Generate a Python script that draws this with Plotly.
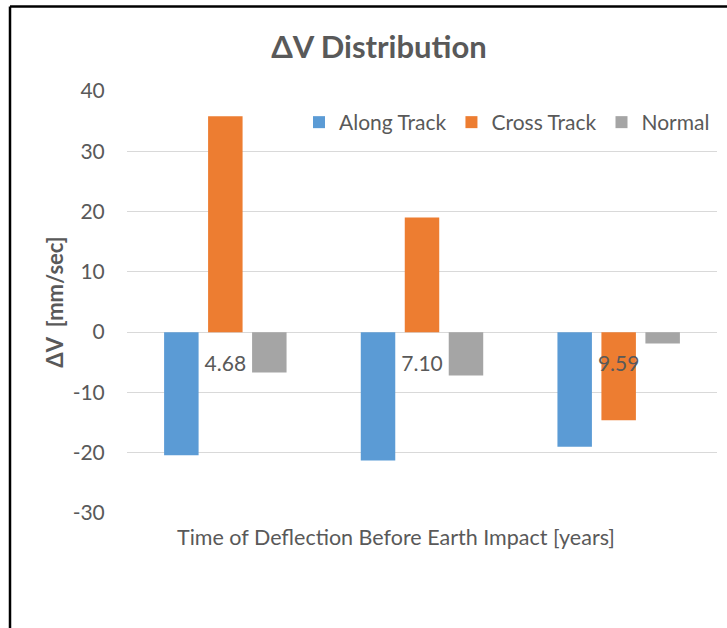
import plotly.graph_objects as go

# Years of deflection before impact (category labels)
deflection_years = ["4.68", "7.10", "9.59"]

# Delta-V components in mm/sec
along_track = [-20.4, -21.3, -19.0]
cross_track = [35.8, 19.0, -14.6]
normal = [-6.7, -7.2, -1.9]

series_names = ["Along Track", "Cross Track", "Normal"]
series_colors = ["#5B9BD5", "#ED7D31", "#A5A5A5"]

y_ticks = [-30, -20, -10, 0, 10, 20, 30, 40]

TEXT = "#595959"
GRID = "#D9D9D9"
FONT = "Lato"

W, H = 727, 628
ML, MR, MT, MB = 127, 10, 91, 115
PW, PH = W - ML - MR, H - MT - MB


def px_to_paper_x(px):
    return (px - ML) / PW


def px_to_paper_y(py):
    return (H - MB - py) / PH


fig = go.Figure()
for name, vals, color in zip(series_names, [along_track, cross_track, normal], series_colors):
    fig.add_trace(go.Bar(
        x=deflection_years, y=vals, name=name,
        marker=dict(color=color, line=dict(width=0)),
    ))

y_min, y_max = y_ticks[0], y_ticks[-1]

fig.update_layout(
    width=W, height=H,
    margin=dict(l=ML, r=MR, t=MT, b=MB, pad=0),
    paper_bgcolor="white", plot_bgcolor="white",
    font=dict(family=FONT, color=TEXT, size=21),
    barmode="group", bargap=0.329, bargroupgap=0.216,
    title=dict(
        text="<b>ΔV Distribution</b>",
        font=dict(family=FONT, size=31, color=TEXT),
        x=379 / W, xanchor="center", xref="container",
        y=1 - 47 / H, yanchor="middle", yref="container",
    ),
    showlegend=True,
    legend=dict(
        orientation="h",
        x=px_to_paper_x(715), xanchor="right",
        y=px_to_paper_y(122.5), yanchor="middle",
        font=dict(family=FONT, size=21, color=TEXT),
        bgcolor="rgba(0,0,0,0)",
        itemwidth=30, traceorder="normal",
    ),
    xaxis=dict(
        type="category", range=[-0.5, 2.5],
        anchor="free", position=(0 - y_min) / (y_max - y_min),
        showgrid=False, showline=False, zeroline=False,
        ticks="outside", ticklen=13, tickcolor="rgba(0,0,0,0)",
        tickfont=dict(family=FONT, size=21, color=TEXT),
    ),
    yaxis=dict(
        range=[y_min, y_max], tickvals=y_ticks,
        ticktext=[str(v) for v in y_ticks],
        showgrid=True, gridcolor=GRID, gridwidth=1,
        zeroline=True, zerolinecolor=GRID, zerolinewidth=1,
        showline=False,
        ticks="outside", ticklen=17, tickcolor="rgba(0,0,0,0)",
        tickfont=dict(family=FONT, size=21, color=TEXT),
        title=dict(
            text="<b>ΔV\u00a0\u00a0[mm/sec]</b>",
            font=dict(family=FONT, size=22, color=TEXT),
            standoff=2,
        ),
    ),
)

# Horizontal axis title below the plot
fig.add_annotation(
    text="Time of Deflection Before Earth Impact [years]",
    xref="paper", yref="paper",
    x=px_to_paper_x(396), y=px_to_paper_y(537),
    xanchor="center", yanchor="middle", showarrow=False,
    font=dict(family=FONT, size=21.5, color=TEXT),
)

# Frame around the chart (left and top edges)
frame = dict(color="black", width=2.5)
fig.add_shape(type="line", xref="paper", yref="paper",
              x0=px_to_paper_x(10), x1=px_to_paper_x(10),
              y0=px_to_paper_y(6.5), y1=px_to_paper_y(H + 5), line=frame)
fig.add_shape(type="line", xref="paper", yref="paper",
              x0=px_to_paper_x(10), x1=px_to_paper_x(W + 5),
              y0=px_to_paper_y(6.5), y1=px_to_paper_y(6.5), line=frame)

fig.write_html("out.html")
